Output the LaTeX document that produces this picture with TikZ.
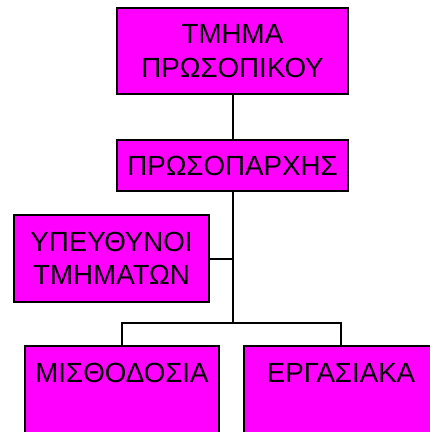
\documentclass[tikz,border=0pt]{standalone}
\usepackage{fontspec}
\setmainfont{Liberation Sans}
\definecolor{boxfill}{RGB}{255,0,255}
\begin{document}
\begin{tikzpicture}[x=1pt,y=-1pt,
  unit/.style={draw=black, line width=2pt, fill=boxfill, rectangle,
    inner sep=0pt, align=center,
    font=\fontsize{27.7}{33.5}\selectfont},
  link/.style={draw=black, line width=2pt}]
  \clip (0,0) rectangle (430,432);
  % organisation chart boxes
  \node[unit, minimum width=231pt, minimum height=86pt] (dept) at (232.5,51)
    {ΤΜΗΜΑ\\ΠΡΩΣΟΠΙΚΟΥ};
  \node[unit, minimum width=231pt, minimum height=51pt] (head) at (232.5,165.5)
    {ΠΡΩΣΟΠΑΡΧΗΣ};
  \node[unit, minimum width=195pt, minimum height=87pt] (resp) at (111.5,258.5)
    {ΥΠΕΥΘΥΝΟΙ\\ΤΜΗΜΑΤΩΝ};
  \node[unit, minimum width=194pt, minimum height=87pt] (pay) at (122,389.5)
    {ΜΙΣΘΟΔΟΣΙΑ\\\phantom{Ι}};
  \node[unit, minimum width=194pt, minimum height=87pt] (work) at (341,389.5)
    {ΕΡΓΑΣΙΑΚΑ\\\phantom{Ι}};
  % branch point of the lower level
  \coordinate (split) at (232.5,323);
  % connectors
  \draw[link] (dept.south) -- (head.north);
  \draw[link] (head.south) -- (split);
  \draw[link] (resp.east) -- (resp.east -| split);
  \draw[link] (pay.north) |- (split) -| (work.north);
\end{tikzpicture}
\end{document}
